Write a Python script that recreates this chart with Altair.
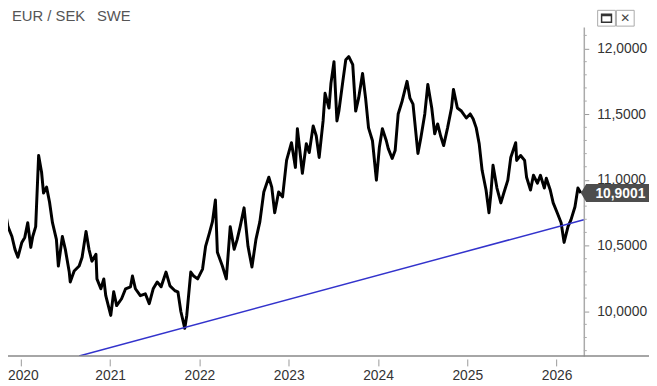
import altair as alt
import pandas as pd

# EUR/SEK daily close (decimal year, rate)
years = [
    2019.823, 2019.856, 2019.900, 2019.934, 2019.967, 2020.011, 2020.044, 2020.077, 2020.111, 2020.133,
    2020.166, 2020.199, 2020.232, 2020.254, 2020.288, 2020.321, 2020.354, 2020.398, 2020.420, 2020.465,
    2020.498, 2020.542, 2020.553, 2020.597, 2020.653, 2020.686, 2020.730, 2020.763, 2020.796, 2020.841,
    2020.852, 2020.896, 2020.929, 2020.951, 2021.007, 2021.040, 2021.073, 2021.128, 2021.173, 2021.228,
    2021.250, 2021.283, 2021.338, 2021.394, 2021.438, 2021.482, 2021.527, 2021.571, 2021.626, 2021.670,
    2021.726, 2021.759, 2021.792, 2021.836, 2021.858, 2021.903, 2021.936, 2021.980, 2022.035, 2022.069,
    2022.113, 2022.146, 2022.179, 2022.201, 2022.257, 2022.301, 2022.345, 2022.389, 2022.423, 2022.456,
    2022.500, 2022.544, 2022.588, 2022.633, 2022.677, 2022.721, 2022.777, 2022.810, 2022.843, 2022.887,
    2022.931, 2022.976, 2023.031, 2023.075, 2023.097, 2023.153, 2023.197, 2023.230, 2023.274, 2023.308,
    2023.341, 2023.385, 2023.407, 2023.451, 2023.473, 2023.507, 2023.540, 2023.562, 2023.606, 2023.639,
    2023.673, 2023.717, 2023.750, 2023.783, 2023.827, 2023.861, 2023.894, 2023.938, 2023.982, 2024.015,
    2024.049, 2024.093, 2024.115, 2024.159, 2024.192, 2024.226, 2024.270, 2024.325, 2024.358, 2024.392,
    2024.447, 2024.480, 2024.524, 2024.558, 2024.602, 2024.635, 2024.668, 2024.701, 2024.735, 2024.779,
    2024.823, 2024.845, 2024.889, 2024.934, 2024.989, 2025.033, 2025.066, 2025.100, 2025.133, 2025.166,
    2025.210, 2025.243, 2025.265, 2025.288, 2025.332, 2025.376, 2025.409, 2025.454, 2025.487, 2025.542,
    2025.553, 2025.597, 2025.642, 2025.664, 2025.708, 2025.741, 2025.785, 2025.819, 2025.863, 2025.885,
    2025.929, 2025.962, 2026.007, 2026.051, 2026.084, 2026.128, 2026.162, 2026.206, 2026.239, 2026.272,
]
rates = [
    10.772, 10.644, 10.569, 10.471, 10.411, 10.524, 10.562, 10.674, 10.486, 10.569,
    10.644, 11.186, 11.058, 10.900, 10.945, 10.832, 10.674, 10.547, 10.344, 10.569,
    10.471, 10.298, 10.223, 10.306, 10.344, 10.411, 10.607, 10.471, 10.381, 10.434,
    10.246, 10.171, 10.246, 10.118, 9.968, 10.148, 10.043, 10.095, 10.171, 10.186,
    10.268, 10.171, 10.118, 10.133, 10.058, 10.171, 10.223, 10.186, 10.298, 10.193,
    10.156, 10.148, 9.998, 9.870, 9.968, 10.298, 10.268, 10.246, 10.321, 10.494,
    10.599, 10.682, 10.847, 10.449, 10.344, 10.246, 10.644, 10.471, 10.547, 10.644,
    10.787, 10.494, 10.336, 10.547, 10.682, 10.908, 11.020, 10.945, 10.750, 10.908,
    10.870, 11.148, 11.283, 11.095, 11.389, 11.050, 11.276, 11.208, 11.411, 11.336,
    11.171, 11.449, 11.659, 11.547, 11.735, 11.900, 11.449, 11.524, 11.750, 11.915,
    11.938, 11.877, 11.524, 11.622, 11.810, 11.622, 11.396, 11.298, 10.998, 11.246,
    11.389, 11.298, 11.238, 11.163, 11.223, 11.502, 11.599, 11.750, 11.622, 11.577,
    11.201, 11.321, 11.502, 11.727, 11.547, 11.351, 11.426, 11.336, 11.261, 11.396,
    11.547, 11.689, 11.547, 11.524, 11.471, 11.502, 11.464, 11.396, 11.276, 11.073,
    10.923, 10.750, 10.900, 11.111, 10.938, 10.825, 10.900, 10.998, 11.171, 11.283,
    11.148, 11.186, 11.148, 11.020, 10.923, 11.035, 10.975, 11.035, 10.938, 11.013,
    10.923, 10.825, 10.750, 10.674, 10.524, 10.644, 10.697, 10.795, 10.938, 10.9001,
]

# Blue support trend line (two end points)
trend_years = [2020.653, 2026.305]
trend_rates = [9.659, 10.697]

x_tick_years = [2020, 2021, 2022, 2023, 2024, 2025, 2026]
y_major_ticks = [10.0, 10.5, 11.0, 11.5, 12.0]
y_minor_ticks = [9.7, 9.8, 9.9, 10.1, 10.2, 10.3, 10.4, 10.6, 10.7, 10.8, 10.9,
                 11.1, 11.2, 11.3, 11.4, 11.6, 11.7, 11.8, 11.9, 12.1]
last_label = "10,9001"
title_left = "EUR / SEK"
title_right = "SWE"

FONT = "Arial, Liberation Sans, sans-serif"
W, H = 583, 333

df = pd.DataFrame({"year": years, "rate": rates})
trend_df = pd.DataFrame({"year": trend_years, "rate": trend_rates})
tag_df = pd.DataFrame({"rate": [rates[-1]], "label": [last_label]})
minor_df = pd.DataFrame({"rate": y_minor_ticks})
one = pd.DataFrame({"k": [0]})

x_scale = alt.Scale(domain=[2019.856, 2026.305], nice=False, zero=False)
y_scale = alt.Scale(domain=[9.659, 12.163], nice=False, zero=False)

x_axis = alt.Axis(
    values=x_tick_years, format="d", title=None, grid=False, domain=False,
    offset=3, tickSize=7, tickColor="#999999", tickWidth=1,
    labelPadding=3, labelFont=FONT, labelFontSize=14, labelColor="#333333",
    labelOffset={"condition": {"test": "datum.value == 2020", "value": 2}, "value": 0},
)
y_axis = alt.Axis(
    orient="right", values=y_major_ticks, title=None, grid=False,
    labelExpr="replace(format(datum.value, '.4f'), '.', ',')",
    labelOverlap=False, tickSize=5, tickColor="#999999", tickWidth=1,
    domainColor="#aaaaaa", domainWidth=1.5,
    labelPadding=8, labelFont=FONT, labelFontSize=14, labelColor="#333333",
)

price = alt.Chart(df).mark_line(
    color="black", strokeWidth=3, strokeJoin="round", clip=True
).encode(
    x=alt.X("year:Q", scale=x_scale, axis=x_axis),
    y=alt.Y("rate:Q", scale=y_scale, axis=y_axis),
)

trend = alt.Chart(trend_df).mark_line(
    color="#3333cc", strokeWidth=1.5, clip=True
).encode(
    x=alt.X("year:Q", scale=x_scale),
    y=alt.Y("rate:Q", scale=y_scale),
)

minor_ticks = alt.Chart(minor_df).mark_rule(color="#aaaaaa", strokeWidth=1).encode(
    x=alt.value(W), x2=alt.value(W + 3), y=alt.Y("rate:Q", scale=y_scale)
)

bottom_line = alt.Chart(one).mark_rule(color="#888888", strokeWidth=1.5).encode(
    x=alt.value(0), x2=alt.value(W + 66), y=alt.value(H)
)

tag_box = alt.Chart(tag_df).mark_point(
    shape="M0,0 L0.6,-1 L7.7,-1 L7.7,1 L0.6,1 Z",
    size=324, filled=True, color="#4d4d4d", opacity=1, strokeWidth=0,
).encode(x=alt.value(580), y=alt.Y("rate:Q", scale=y_scale))

tag_text = alt.Chart(tag_df).mark_text(
    color="white", font=FONT, fontSize=14, fontWeight="bold",
    align="center", baseline="middle", dy=1,
).encode(x=alt.value(620), y=alt.Y("rate:Q", scale=y_scale), text="label:N")

title1 = alt.Chart(one).mark_text(
    text=title_left, font=FONT, fontSize=15, color="#555555", align="left", baseline="alphabetic"
).encode(x=alt.value(4), y=alt.value(-6))
title2 = alt.Chart(one).mark_text(
    text=title_right, font=FONT, fontSize=15, color="#555555", align="left", baseline="alphabetic"
).encode(x=alt.value(90), y=alt.value(-6))

btn1 = alt.Chart(one).mark_rect(fill="white", stroke="#aaaaaa", strokeWidth=1).encode(
    x=alt.value(597), x2=alt.value(615), y=alt.value(-17), y2=alt.value(-1)
)
btn2 = alt.Chart(one).mark_rect(fill="white", stroke="#aaaaaa", strokeWidth=1).encode(
    x=alt.value(616), x2=alt.value(634), y=alt.value(-17), y2=alt.value(-1)
)
icon1 = alt.Chart(one).mark_rect(fill="white", stroke="#333333", strokeWidth=1.5).encode(
    x=alt.value(601), x2=alt.value(611), y=alt.value(-13), y2=alt.value(-5)
)
icon1_top = alt.Chart(one).mark_rule(color="#333333", strokeWidth=2).encode(
    x=alt.value(601), x2=alt.value(611), y=alt.value(-12)
)
icon2 = alt.Chart(one).mark_text(
    text="\u2715", font="DejaVu Sans", fontSize=12, color="#444444", align="center", baseline="middle"
).encode(x=alt.value(625), y=alt.value(-9))

chart = alt.layer(
    price, trend, minor_ticks, bottom_line, tag_box, tag_text, title1, title2,
    btn1, btn2, icon1, icon1_top, icon2,
).properties(
    width=W, height=H,
    padding={"left": 0, "top": 17, "right": 66, "bottom": 28},
    autosize=alt.AutoSizeParams(type="none"),
    background="white",
).configure_view(stroke=None)

chart.save("out.html", embed_options={"renderer": "svg", "actions": False})
